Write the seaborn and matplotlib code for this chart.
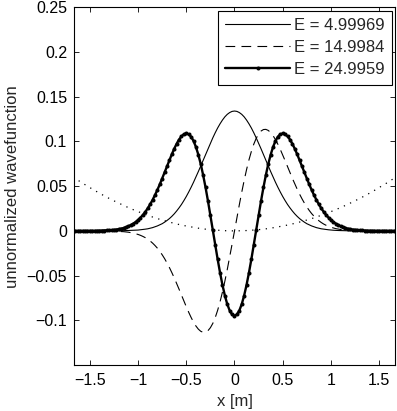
#!/usr/bin/env python3
"""Unnormalized wavefunctions of the three lowest states plus the (scaled) potential."""

import matplotlib

matplotlib.use("Agg")

import matplotlib.pyplot as plt
import numpy as np
import seaborn as sns
from matplotlib.ticker import FixedLocator, FuncFormatter


# sample positions [m], 0.025 m apart
X = np.linspace(-1.675, 1.675, 135)

LABELS = ["E = 4.99969", "E = 14.9984", "E = 24.9959"]

# ground state (thin solid)
PSI_0 = (
    [0.0] * 19
    + [0.0001, 0.0001, 0.0002, 0.0002, 0.0003, 0.0004, 0.0005, 0.0007, 0.0009, 0.0012,
       0.0015, 0.0019, 0.0023, 0.0029, 0.0036, 0.0045, 0.0055, 0.0067, 0.0080, 0.0097,
       0.0116, 0.0137, 0.0162, 0.0190, 0.0222, 0.0257, 0.0295, 0.0338, 0.0384, 0.0434,
       0.0487, 0.0543, 0.0602, 0.0663, 0.0726, 0.0790, 0.0854, 0.0918, 0.0980, 0.1040,
       0.1097, 0.1150, 0.1197, 0.1239, 0.1275, 0.1303, 0.1323, 0.1336]
    + [0.1340]
    + [0.1336, 0.1323, 0.1303, 0.1275, 0.1239, 0.1197, 0.1150, 0.1097,
       0.1040, 0.0980, 0.0918, 0.0854, 0.0790, 0.0726, 0.0663, 0.0602, 0.0543, 0.0487,
       0.0434, 0.0384, 0.0338, 0.0295, 0.0257, 0.0222, 0.0190, 0.0162, 0.0137, 0.0116,
       0.0097, 0.0080, 0.0067, 0.0055, 0.0045, 0.0036, 0.0029, 0.0023, 0.0019, 0.0015,
       0.0012, 0.0009, 0.0007, 0.0005, 0.0004, 0.0003, 0.0002, 0.0002, 0.0001, 0.0001]
    + [0.0] * 19
)

# first excited state (dashed)
PSI_1 = (
    [0.0] * 13
    + [-0.0001, -0.0001, -0.0002, -0.0002, -0.0003, -0.0004, -0.0005, -0.0007, -0.0009, -0.0012,
       -0.0015, -0.0020, -0.0025, -0.0032, -0.0040, -0.0050, -0.0062, -0.0076, -0.0093, -0.0113,
       -0.0136, -0.0163, -0.0193, -0.0228, -0.0267, -0.0310, -0.0358, -0.0410, -0.0466, -0.0525,
       -0.0587, -0.0652, -0.0718, -0.0784, -0.0848, -0.0910, -0.0968, -0.1020, -0.1064, -0.1099,
       -0.1123, -0.1135, -0.1133, -0.1116, -0.1083, -0.1035, -0.0970, -0.0889, -0.0794, -0.0685,
       -0.0563, -0.0432, -0.0292, -0.0148]
    + [0.0]
    + [0.0148, 0.0292, 0.0432, 0.0563, 0.0685, 0.0794, 0.0889, 0.0970, 0.1035, 0.1083,
       0.1116, 0.1133, 0.1135, 0.1123, 0.1099, 0.1064, 0.1020, 0.0968, 0.0910, 0.0848,
       0.0784, 0.0718, 0.0652, 0.0587, 0.0525, 0.0466, 0.0410, 0.0358, 0.0310, 0.0267,
       0.0228, 0.0193, 0.0163, 0.0136, 0.0113, 0.0093, 0.0076, 0.0062, 0.0050, 0.0040,
       0.0032, 0.0025, 0.0020, 0.0015, 0.0012, 0.0009, 0.0007, 0.0005, 0.0004, 0.0003,
       0.0002, 0.0002, 0.0001, 0.0001]
    + [0.0] * 13
)

# second excited state (thick, dotted markers)
PSI_2 = (
    [0.0] * 7
    + [0.0001, 0.0001, 0.0001, 0.0002, 0.0002, 0.0003, 0.0004, 0.0005, 0.0007, 0.0009,
       0.0012, 0.0015, 0.0020, 0.0025, 0.0032, 0.0041, 0.0052, 0.0065, 0.0081, 0.0099,
       0.0122, 0.0148, 0.0178, 0.0212, 0.0252, 0.0296, 0.0345, 0.0399, 0.0457, 0.0519,
       0.0585, 0.0653, 0.0721, 0.0790, 0.0856, 0.0918, 0.0974, 0.1021, 0.1057, 0.1081,
       0.1089, 0.1080, 0.1053, 0.1006, 0.0939, 0.0852, 0.0747, 0.0623, 0.0485, 0.0334,
       0.0174, 0.0009, -0.0156, -0.0316, -0.0467, -0.0604, -0.0723, -0.0820, -0.0891, -0.0935]
    + [-0.0950]
    + [-0.0935, -0.0891, -0.0820, -0.0723, -0.0604, -0.0467, -0.0316, -0.0156, 0.0009, 0.0174,
       0.0334, 0.0485, 0.0623, 0.0747, 0.0852, 0.0939, 0.1006, 0.1053, 0.1080, 0.1089,
       0.1081, 0.1057, 0.1021, 0.0974, 0.0918, 0.0856, 0.0790, 0.0721, 0.0653, 0.0585,
       0.0519, 0.0457, 0.0399, 0.0345, 0.0296, 0.0252, 0.0212, 0.0178, 0.0148, 0.0122,
       0.0099, 0.0081, 0.0065, 0.0052, 0.0041, 0.0032, 0.0025, 0.0020, 0.0015, 0.0012,
       0.0009, 0.0007, 0.0005, 0.0004, 0.0003, 0.0002, 0.0002, 0.0001, 0.0001, 0.0001]
    + [0.0] * 7
)

# potential, scaled onto the same axis (dotted)
POTENTIAL = (
    [0.0603, 0.0585, 0.0568, 0.0550, 0.0533, 0.0517, 0.0500, 0.0484, 0.0468, 0.0452,
     0.0437, 0.0421, 0.0406, 0.0392, 0.0377, 0.0363, 0.0350, 0.0336, 0.0323, 0.0310,
     0.0297, 0.0284, 0.0272, 0.0260, 0.0248, 0.0237, 0.0226, 0.0215, 0.0204, 0.0194,
     0.0184, 0.0174, 0.0165, 0.0155, 0.0146, 0.0138, 0.0129, 0.0121, 0.0113, 0.0105,
     0.0098, 0.0091, 0.0084, 0.0077, 0.0071, 0.0065, 0.0059, 0.0054, 0.0049, 0.0044,
     0.0039, 0.0034, 0.0030, 0.0026, 0.0023, 0.0019, 0.0016, 0.0013, 0.0011, 0.0009,
     0.0007, 0.0005, 0.0003, 0.0002, 0.0001, 0.0001, 0.0000]
    + [0.0000]
    + [0.0000, 0.0001, 0.0001, 0.0002, 0.0003, 0.0005, 0.0007, 0.0009, 0.0011, 0.0013,
       0.0016, 0.0019, 0.0023, 0.0026, 0.0030, 0.0034, 0.0039, 0.0044, 0.0049, 0.0054,
       0.0059, 0.0065, 0.0071, 0.0077, 0.0084, 0.0091, 0.0098, 0.0105, 0.0113, 0.0121,
       0.0129, 0.0138, 0.0146, 0.0155, 0.0165, 0.0174, 0.0184, 0.0194, 0.0204, 0.0215,
       0.0226, 0.0237, 0.0248, 0.0260, 0.0272, 0.0284, 0.0297, 0.0310, 0.0323, 0.0336,
       0.0350, 0.0363, 0.0377, 0.0392, 0.0406, 0.0421, 0.0437, 0.0452, 0.0468, 0.0484,
       0.0500, 0.0517, 0.0533, 0.0550, 0.0568, 0.0585, 0.0603]
)

X_TICKS = [-1.5, -1, -0.5, 0, 0.5, 1, 1.5]
Y_TICKS = [-0.1, -0.05, 0, 0.05, 0.1, 0.15, 0.2, 0.25]


def tick_text(v, _pos=None):
    return f"{v:g}".replace("-", "\u2212")


def main():
    sns.set_theme(style="ticks")
    plt.rcParams.update(
        {
            "font.family": ["Liberation Sans", "DejaVu Sans"],
            "font.size": 11.5,
            "axes.linewidth": 0.8,
            "lines.scale_dashes": False,
        }
    )

    fig = plt.figure(figsize=(3.97, 4.11), dpi=100)
    ax = fig.add_axes([74 / 397, 1 - 365 / 411, 321 / 397, (365 - 7.3) / 411])

    sns.lineplot(x=X, y=PSI_0, ax=ax, color="black", linewidth=0.8,
                 sort=False, estimator=None, label=LABELS[0])
    sns.lineplot(x=X, y=PSI_1, ax=ax, color="black", linewidth=0.8,
                 linestyle=(0, (7, 4.5)), sort=False, estimator=None, label=LABELS[1])
    sns.lineplot(x=X, y=PSI_2, ax=ax, color="black", linewidth=1.7,
                 marker="o", markersize=2.9, markeredgecolor="black", markeredgewidth=0,
                 sort=False, estimator=None, label=LABELS[2])
    sns.lineplot(x=X, y=POTENTIAL, ax=ax, color="black", linewidth=0.9,
                 linestyle=(0, (0.9, 4)), sort=False, estimator=None, legend=False)

    ax.set_xlim(-1.664, 1.664)
    ax.set_ylim(-0.15, 0.25)
    ax.xaxis.set_major_locator(FixedLocator(X_TICKS))
    ax.yaxis.set_major_locator(FixedLocator(Y_TICKS))
    ax.xaxis.set_major_formatter(FuncFormatter(tick_text))
    ax.yaxis.set_major_formatter(FuncFormatter(tick_text))
    ax.tick_params(direction="in", top=True, right=True, length=3.5, width=0.6,
                   labelsize=11.5, colors="black")
    ax.tick_params(axis="x", pad=6)
    ax.tick_params(axis="y", pad=5)
    for side in ["top", "right", "left", "bottom"]:
        ax.spines[side].set_visible(True)
        ax.spines[side].set_color("black")

    ax.set_xlabel("x [m]", fontsize=12, labelpad=4)
    ax.set_ylabel("unnormalized wavefunction", fontsize=12, labelpad=5)

    leg = ax.legend(loc="upper right", fontsize=12, frameon=True, fancybox=False,
                    framealpha=1, edgecolor="black", borderaxespad=0.2,
                    handlelength=3.9, handletextpad=0.2, labelspacing=0.42,
                    borderpad=0.45, numpoints=1)
    leg.get_frame().set_linewidth(0.8)

    fig.savefig("out.png", dpi=100)


if __name__ == "__main__":
    main()
